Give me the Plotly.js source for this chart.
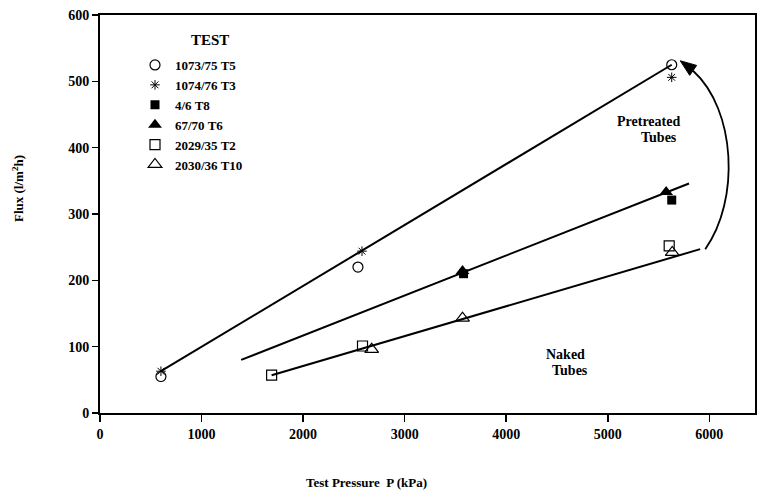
<!DOCTYPE html>
<html><head><meta charset="utf-8">
<script src="https://cdn.plot.ly/plotly-3.0.1.min.js"></script>
<style>html,body{margin:0;padding:0;background:#fff}</style>
</head><body><div id="chart" style="width:761px;height:497px"></div>
<script>
// Data
const t5_x = [600, 2540, 5630];   const t5_y = [55, 220, 525];
const t3_x = [600, 2580, 5630];   const t3_y = [63, 244, 506];
const t8_x = [3580, 5630];        const t8_y = [210, 321];
const t6_x = [3570, 5575];        const t6_y = [214, 333];
const t2_x = [1690, 2585, 5605];  const t2_y = [57, 101, 252];
const t10_x = [2675, 3570, 5635]; const t10_y = [96, 143, 242];
// fitted lines (end points)
const fitTop_x = [600, 5630];  const fitTop_y = [63, 525];
const fitMid_x = [1390, 5800]; const fitMid_y = [80, 346];
const fitBot_x = [1690, 5910]; const fitBot_y = [57, 247];
const xTicks = [0, 1000, 2000, 3000, 4000, 5000, 6000];
const yTicks = [0, 100, 200, 300, 400, 500, 600];
const names = ['1073/75 T5', '1074/76 T3', '4/6 T8', '67/70 T6', '2029/35 T2', '2030/36 T10'];

const serif = 'Liberation Serif, Times New Roman, serif';
const fitLine = {color: '#000', width: 2};
function fit(x, y){ return {x, y, mode: 'lines', line: fitLine, showlegend: false, hoverinfo: 'skip'}; }
function pts(x, y, name, symbol, size, lw){
  return {x, y, name, mode: 'markers', type: 'scatter',
    marker: {symbol, size, color: '#000', line: {color: '#000', width: lw}}};
}
const data = [
  fit(fitTop_x, fitTop_y), fit(fitMid_x, fitMid_y), fit(fitBot_x, fitBot_y),
  pts(t5_x, t5_y, names[0], 'circle-open', 10, 1.2),
  pts(t3_x, t3_y, names[1], 'asterisk-open', 8, 1),
  pts(t8_x, t8_y, names[2], 'square', 9, 0),
  pts(t6_x, t6_y, names[3], 'triangle-up', 12, 0),
  pts(t2_x, t2_y, names[4], 'square-open', 10, 1.2),
  pts(t10_x, t10_y, names[5], 'triangle-up-open', 12, 1.2)
];

// curved arrow and its head (data coordinates)
const arrowPath = 'M 5960,247 C 6303,321 6264,457 5840,516';
const arrowHead = 'M 5714,531 L 5875,524 L 5807,509 Z';

// pixel -> paper helpers for the plot area (l=100, r=755, t=15, b=413)
const px = v => (v - 100) / 655;
const py = v => (413 - v) / 398;
function paperText(x, y, text, size, angle){
  return {x: px(x), y: py(y), xref: 'paper', yref: 'paper', xanchor: 'center', yanchor: 'middle',
    text, showarrow: false, textangle: angle || 0, font: {family: serif, size}};
}

const layout = {
  width: 761, height: 497,
  margin: {l: 100, r: 6, t: 15, b: 84},
  paper_bgcolor: '#fff', plot_bgcolor: '#fff',
  font: {family: serif, color: '#000', size: 14},
  showlegend: true,
  legend: {x: px(135), y: py(50), xanchor: 'left', yanchor: 'top',
    bgcolor: 'rgba(0,0,0,0)', borderwidth: 0, tracegroupgap: 0,
    font: {family: serif, size: 13, color: '#000', weight: 'bold'},
    itemwidth: 30},
  xaxis: {range: [0, 6450], tickvals: xTicks, ticktext: xTicks.map(String),
    showgrid: false, zeroline: false, showline: true, linecolor: '#000', linewidth: 2,
    mirror: true, ticks: 'outside', ticklen: 7, tickwidth: 1.5, tickcolor: '#000',
    tickfont: {family: serif, size: 14, weight: 'bold'}},
  yaxis: {range: [0, 600], tickvals: yTicks, ticktext: yTicks.map(String),
    showgrid: false, zeroline: false, showline: true, linecolor: '#000', linewidth: 2,
    mirror: true, ticks: 'outside', ticklen: 6, tickwidth: 1.5, tickcolor: '#000',
    tickfont: {family: serif, size: 14, weight: 'bold'}},
  shapes: [
    {type: 'path', xref: 'x', yref: 'y', path: arrowPath, line: {color: '#000', width: 1.8}},
    {type: 'path', xref: 'x', yref: 'y', path: arrowHead, fillcolor: '#000', line: {color: '#000', width: 1}}
  ],
  annotations: [
    {x: 5400, y: 440, xref: 'x', yref: 'y', text: '<b>Pretreated</b>', showarrow: false, font: {family: serif, size: 14}},
    {x: 5500, y: 416, xref: 'x', yref: 'y', text: '<b>Tubes</b>', showarrow: false, font: {family: serif, size: 14}},
    {x: 4580, y: 88, xref: 'x', yref: 'y', text: '<b>Naked</b>', showarrow: false, font: {family: serif, size: 14}},
    {x: 4630, y: 64, xref: 'x', yref: 'y', text: '<b>Tubes</b>', showarrow: false, font: {family: serif, size: 14}},
    paperText(366, 482, '<b>Test Pressure  P (kPa)</b>', 13),
    paperText(18, 189, '<b>Flux (l/m<sup>2</sup>h)</b>', 13, -90),
    paperText(210, 40, '<b>TEST</b>', 15)
  ]
};
Plotly.newPlot('chart', data, layout, {displayModeBar: false, staticPlot: true});
</script></body></html>
